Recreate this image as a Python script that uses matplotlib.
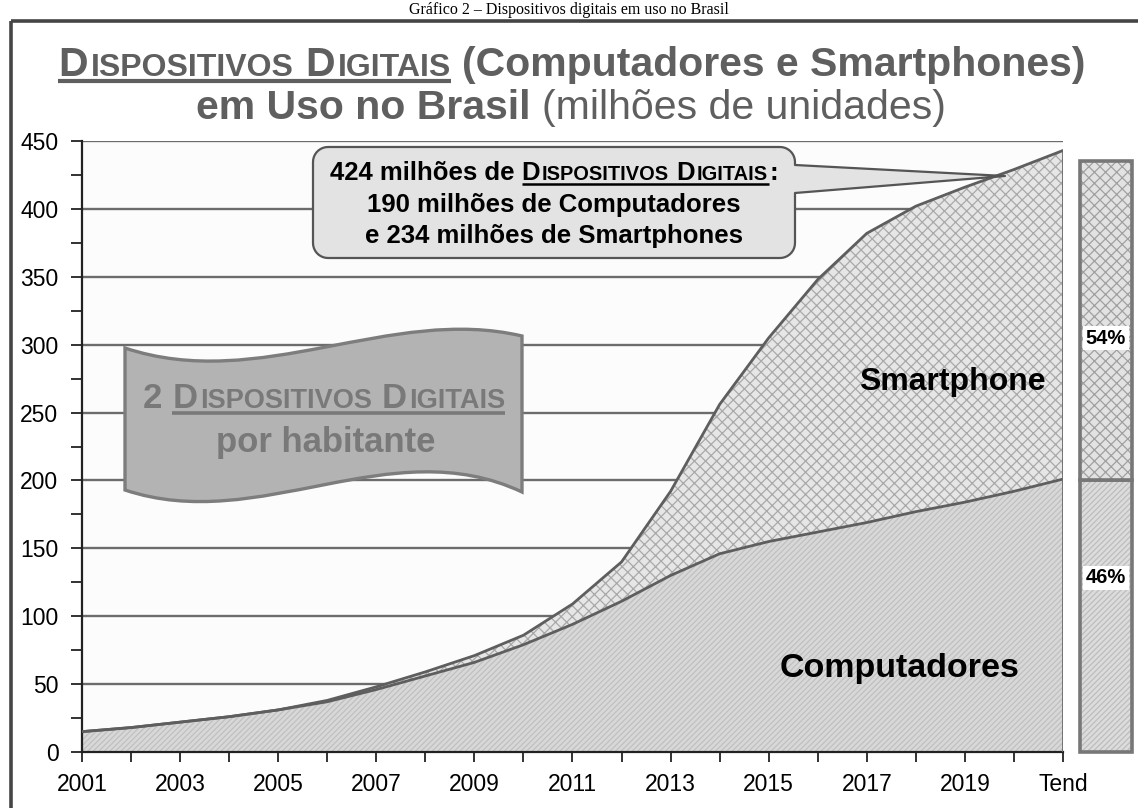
import matplotlib
matplotlib.use('Agg')
import matplotlib.pyplot as plt
from matplotlib.patches import PathPatch, Polygon, Rectangle
from matplotlib.path import Path
import numpy as np

# ---------------- data ----------------
years = list(range(2001, 2022))
computadores = [15, 18, 22, 26, 31, 37, 46, 56, 66, 79, 94, 111, 130, 146, 155, 162, 169, 177, 184, 192, 201]
smartphones = [0, 0, 0, 0, 0, 1, 2, 3, 5, 7, 15, 29, 62, 110, 150, 186, 213, 225, 232, 237, 242]
tick_years = [2001, 2003, 2005, 2007, 2009, 2011, 2013, 2015, 2017, 2019, 2021]
tick_labels = ['2001', '2003', '2005', '2007', '2009', '2011', '2013', '2015', '2017', '2019', 'Tend']
y_ticks = [0, 50, 100, 150, 200, 250, 300, 350, 400, 450]
share_labels = ['46%', '54%']
share_values = [46, 54]

total = [c + s for c, s in zip(computadores, smartphones)]

FONT = ['Liberation Sans', 'DejaVu Sans']
plt.rcParams['font.family'] = FONT
plt.rcParams['hatch.linewidth'] = 0.9

W, H = 1138, 808
fig = plt.figure(figsize=(W / 100, H / 100), dpi=100)
fig.patch.set_facecolor('white')

# ---------------- main area chart ----------------
ax = fig.add_axes([82 / W, 1 - 752 / H, (1063 - 82) / W, (752 - 141) / H])
ax.set_facecolor('#fcfcfc')
ax.set_xlim(years[0], years[-1])
ax.set_ylim(0, 450)

ax.fill_between(years, 0, computadores, facecolor='#d8d8d8', edgecolor='#c0c0c0',
                hatch='//////', linewidth=0, zorder=2)
ax.fill_between(years, computadores, total, facecolor='#e6e6e6', edgecolor='#a9a9a9',
                hatch='xxx', linewidth=0, zorder=2)
ax.plot(years, total, color='#5e5e5e', lw=2, zorder=3)
ax.plot(years, computadores, color='#5e5e5e', lw=2, zorder=3)
ax.plot([years[-1], years[-1]], [0, total[-1]], color='#6a6a6a', lw=2, zorder=3)

ax.set_yticks(y_ticks)
ax.set_yticks(np.arange(25, 450, 50), minor=True)
ax.set_xticks(tick_years)
ax.set_xticklabels(tick_labels)
ax.set_xticks(years, minor=True)
ax.yaxis.grid(True, which='major', color='#6c6c6c', lw=1.7)
ax.set_axisbelow(True)
ax.tick_params(axis='y', which='both', direction='out', length=8, width=1.3,
               color='#222222', labelsize=16.5, pad=9)
ax.tick_params(axis='x', which='both', direction='out', length=7, width=1.3,
               color='#222222', labelsize=16.5, pad=8)
for s in ['top', 'right']:
    ax.spines[s].set_visible(False)
for s in ['left', 'bottom']:
    ax.spines[s].set_color('#222222')
    ax.spines[s].set_linewidth(1.6)

# ---------------- 100% bar on the right ----------------
axb = fig.add_axes([1080 / W, 1 - 752 / H, 52 / W, (752 - 161) / H])
axb.set_xlim(0, 1)
axb.set_ylim(0, 100)
axb.axis('off')
bar_faces = ['#dcdcdc', '#e2e2e2']
bar_hatch = ['//////', 'xxx']
bar_hcol = ['#bdbdbd', '#a0a0a0']
label_pos = [29.5, 70]
bottom = 0
for v, lab, fc, ht, hc, lp in zip(share_values, share_labels, bar_faces, bar_hatch, bar_hcol, label_pos):
    axb.bar(0.5, v, bottom=bottom, width=1, color=fc, edgecolor=hc, hatch=ht, linewidth=0)
    axb.bar(0.5, v, bottom=bottom, width=1, fill=False, edgecolor='#777777', linewidth=2.6, clip_on=False)
    axb.text(0.5, lp, lab, ha='center', va='center', fontsize=14.5, fontweight='bold', color='black',
             bbox=dict(boxstyle='square,pad=0.12', fc='white', ec='none'))
    bottom += v

# ---------------- overlay (pixel coordinates) ----------------
ov = fig.add_axes([0, 0, 1, 1])
ov.set_xlim(0, W)
ov.set_ylim(H, 0)
ov.axis('off')
ov.patch.set_visible(False)

renderer = fig.canvas.get_renderer()


def text_w(s, size, weight):
    t = ov.text(0, 100, s, fontsize=size, fontweight=weight)
    w = t.get_window_extent(renderer).width
    t.remove()
    return w


def run_w(s, size, weight):
    if s == ' ':
        return text_w('a a', size, weight) - text_w('aa', size, weight)
    return text_w(s, size, weight)


def draw_rich(runs, xc, y, color, ul_off=5, ul_lw=2.5):
    # runs: (text, size, weight, underline)
    widths = []
    for i, (s, size, wt, ul) in enumerate(runs):
        w = run_w(s, size, wt)
        if s != ' ' and i + 1 < len(runs) and runs[i + 1][0] != ' ':
            w += 0.07 * size * 100 / 72
        widths.append(w)
    total_w = sum(widths)
    x = xc - total_w / 2
    segs = []
    cur = None
    for (s, size, wt, ul), w in zip(runs, widths):
        if s != ' ':
            ov.text(x, y, s, fontsize=size, fontweight=wt, color=color, ha='left', va='baseline')
        if ul:
            if cur is None:
                cur = [x, x + w]
            else:
                cur[1] = x + w
        else:
            if cur is not None:
                segs.append(cur)
                cur = None
        x += w
    if cur is not None:
        segs.append(cur)
    for a, b in segs:
        ov.plot([a, b], [y + ul_off, y + ul_off], color=color, lw=ul_lw, solid_capstyle='butt')


def small_caps(phrase, big, weight, ul, ratio=0.78):
    out = []
    words = phrase.split(' ')
    for k, wd in enumerate(words):
        out.append((wd[0], big, weight, ul))
        out.append((wd[1:].upper(), big * ratio, weight, ul))
        if k < len(words) - 1:
            out.append((' ', big, weight, ul))
    return out


# caption and frame
ov.text(569, 14, 'Gráfico 2 – Dispositivos digitais em uso no Brasil',
        family=['Liberation Serif', 'DejaVu Serif'], fontsize=11.5, ha='center', va='baseline')
ov.add_patch(Rectangle((11, 21), 1145, 830, fill=False, ec='#454545', lw=2.6))

# title
TCOL = '#5f5f5f'
runs1 = small_caps('Dispositivos Digitais', 29.5, 'bold', True) + [
    (' ', 29.5, 'bold', False), ('(Computadores e Smartphones)', 29.5, 'bold', False)]
draw_rich(runs1, 572, 76, TCOL, ul_off=5, ul_lw=3)
runs2 = [('em Uso no Brasil', 29.5, 'bold', False), (' ', 29.5, 'normal', False),
         ('(milhões de unidades)', 29.5, 'normal', False)]
draw_rich(runs2, 571, 119, TCOL)

# callout box with pointer
x0, x1, y0, y1, r = 313, 795, 147, 258, 15


def arc(cx, cy, a0, a1, n=10):
    a = np.radians(np.linspace(a0, a1, n))
    return list(zip(cx + r * np.cos(a), cy + r * np.sin(a)))


verts = (arc(x1 - r, y0 + r, -90, 0) + [(x1, 165), (1005, 176), (x1, 193)] +
         arc(x1 - r, y1 - r, 0, 90) + arc(x0 + r, y1 - r, 90, 180) + arc(x0 + r, y0 + r, 180, 270))
ov.add_patch(Polygon(verts, closed=True, fc='#e3e3e3', ec='#555555', lw=1.6, joinstyle='round'))

CS = 18.5
runs_c1 = [('424 milhões de', CS, 'bold', False), (' ', CS, 'bold', False)] + \
    small_caps('Dispositivos Digitais', CS, 'bold', True) + [(':', CS, 'bold', False)]
draw_rich(runs_c1, 554, 180, 'black', ul_off=4, ul_lw=1.8)
ov.text(554, 212, '190 milhões de Computadores', fontsize=CS, fontweight='bold',
        ha='center', va='baseline', color='black')
ov.text(554, 243, 'e 234 milhões de Smartphones', fontsize=CS, fontweight='bold',
        ha='center', va='baseline', color='black')

# wave banner
bverts = [(125, 348), (260, 393), (390, 305), (522, 336),
          (522, 492), (390, 430), (260, 535), (125, 490), (125, 348)]
bcodes = [Path.MOVETO, Path.CURVE4, Path.CURVE4, Path.CURVE4,
          Path.LINETO, Path.CURVE4, Path.CURVE4, Path.CURVE4, Path.CLOSEPOLY]
ov.add_patch(PathPatch(Path(bverts, bcodes), fc='#b3b3b3', ec='#7d7d7d', lw=2.4))
BCOL = '#797979'
BS = 25
runs_b1 = [('2', BS, 'bold', False), (' ', BS, 'bold', False)] + small_caps('Dispositivos Digitais', BS, 'bold', True)
draw_rich(runs_b1, 324, 408, BCOL, ul_off=5, ul_lw=2.6)
ov.text(326, 452, 'por habitante', fontsize=BS, fontweight='bold', color=BCOL,
        ha='center', va='baseline')

# series labels
ov.text(952, 390, 'Smartphone', fontsize=23, fontweight='bold', color='black', ha='center', va='baseline')
ov.text(900, 677, 'Computadores', fontsize=24.5, fontweight='bold', color='black', ha='center', va='baseline')

fig.savefig('out.png', dpi=100)
